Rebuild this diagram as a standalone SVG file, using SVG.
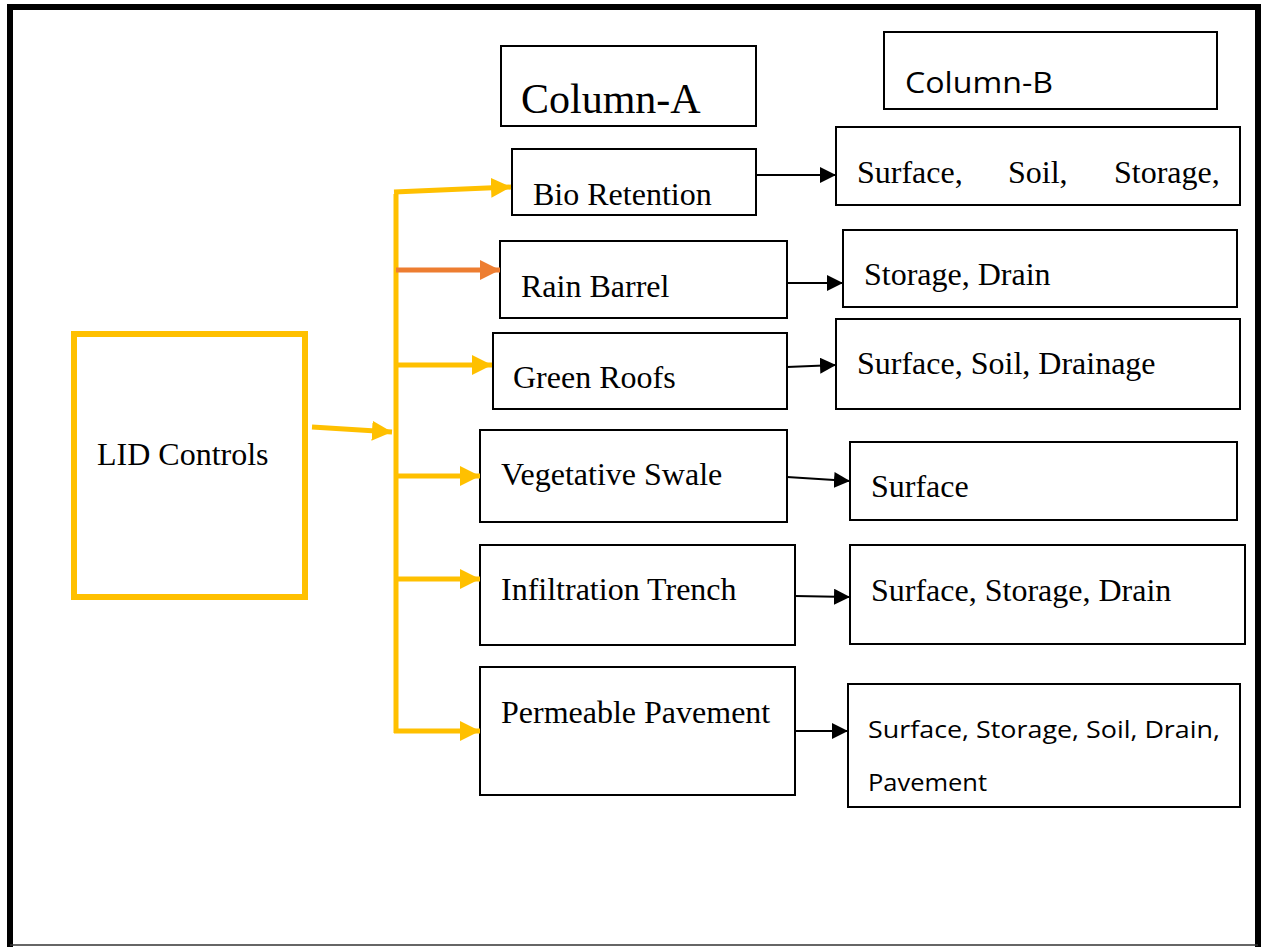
<svg xmlns="http://www.w3.org/2000/svg" width="1264" height="947" viewBox="0 0 1264 947">
<style>
.box{fill:#fff;stroke:#000;stroke-width:2}
.lid{fill:#fff;stroke:#FFC000;stroke-width:6}
.t{font-family:"Liberation Serif","Times New Roman",serif;font-size:32px;fill:#000}
.s{font-family:"Open Sans","Liberation Sans",sans-serif;fill:#000}
.y{stroke:#FFC000;stroke-width:5;fill:none}
.o{stroke:#ED7D31;stroke-width:5;fill:none}
.k{stroke:#000;stroke-width:2;fill:none}
</style>
<defs>
<marker id="ay" markerUnits="userSpaceOnUse" markerWidth="22" markerHeight="20" refX="20" refY="10" orient="auto"><path d="M0,0 L20,10 L0,20 Z" fill="#FFC000"/></marker>
<marker id="ao" markerUnits="userSpaceOnUse" markerWidth="22" markerHeight="20" refX="20" refY="10" orient="auto"><path d="M0,0 L20,10 L0,20 Z" fill="#ED7D31"/></marker>
<marker id="ak" markerUnits="userSpaceOnUse" markerWidth="18" markerHeight="16" refX="16" refY="8" orient="auto"><path d="M0,0 L16,8 L0,16 Z" fill="#000"/></marker>
</defs>
<rect width="1264" height="947" fill="#fff"/>
<g id="frame">
<path d="M10,947 V7 H1258 V947" fill="none" stroke="#000" stroke-width="6"/>
<line x1="10" y1="945" x2="1258" y2="945" stroke="#333" stroke-width="1.5"/>
</g>
<g id="lid"><rect class="lid" x="74" y="334" width="231" height="263"/><text class="t" x="97" y="465">LID Controls</text></g>
<g id="colA"><rect class="box" x="501" y="46" width="255" height="80"/><text class="t" x="521" y="113" style="font-size:42px">Column-A</text></g>
<g id="colB"><rect class="box" x="884" y="32" width="333" height="77"/><text class="s" x="905" y="93" font-size="30" textLength="148" lengthAdjust="spacingAndGlyphs">Column-B</text></g>
<g id="a1"><rect class="box" x="512" y="149" width="244" height="66"/><text class="t" x="533" y="205">Bio Retention</text></g>
<g id="a2"><rect class="box" x="500" y="241" width="287" height="77"/><text class="t" x="521" y="297">Rain Barrel</text></g>
<g id="a3"><rect class="box" x="493" y="333" width="294" height="76"/><text class="t" x="513" y="388">Green Roofs</text></g>
<g id="a4"><rect class="box" x="480" y="430" width="307" height="92"/><text class="t" x="501" y="485">Vegetative Swale</text></g>
<g id="a5"><rect class="box" x="480" y="545" width="315" height="100"/><text class="t" x="501" y="600">Infiltration Trench</text></g>
<g id="a6"><rect class="box" x="480" y="667" width="315" height="128"/><text class="t" x="501" y="723">Permeable Pavement</text></g>
<g id="b1"><rect class="box" x="836" y="127" width="404" height="78"/><text class="t" y="183"><tspan x="857">Surface,</tspan><tspan x="1008">Soil,</tspan><tspan x="1114">Storage,</tspan></text></g>
<g id="b2"><rect class="box" x="843" y="230" width="394" height="77"/><text class="t" x="864" y="285">Storage, Drain</text></g>
<g id="b3"><rect class="box" x="836" y="319" width="404" height="90"/><text class="t" x="857" y="374">Surface, Soil, Drainage</text></g>
<g id="b4"><rect class="box" x="850" y="442" width="387" height="78"/><text class="t" x="871" y="497">Surface</text></g>
<g id="b5"><rect class="box" x="850" y="545" width="395" height="99"/><text class="t" x="871" y="601">Surface, Storage, Drain</text></g>
<g id="b6"><rect class="box" x="848" y="684" width="392" height="123"/><text class="s" x="868" y="738" font-size="24" textLength="352" lengthAdjust="spacingAndGlyphs">Surface, Storage, Soil, Drain,</text><text class="s" x="868" y="791" font-size="24" textLength="119" lengthAdjust="spacingAndGlyphs">Pavement</text></g>
<g id="connectors">
<line class="y" x1="312" y1="427" x2="392" y2="432" marker-end="url(#ay)"/>
<line class="y" x1="396" y1="194" x2="396" y2="733"/>
<line class="y" x1="394" y1="192" x2="511" y2="187" marker-end="url(#ay)"/>
<line class="o" x1="396" y1="270" x2="500" y2="270" marker-end="url(#ao)"/>
<line class="y" x1="396" y1="365" x2="492" y2="365" marker-end="url(#ay)"/>
<line class="y" x1="396" y1="476" x2="480" y2="476" marker-end="url(#ay)"/>
<line class="y" x1="396" y1="579" x2="480" y2="579" marker-end="url(#ay)"/>
<line class="y" x1="394" y1="731" x2="480" y2="731" marker-end="url(#ay)"/>
<line class="k" x1="756" y1="175" x2="836" y2="175" marker-end="url(#ak)"/>
<line class="k" x1="787" y1="283" x2="843" y2="283" marker-end="url(#ak)"/>
<line class="k" x1="787" y1="367" x2="836" y2="365" marker-end="url(#ak)"/>
<line class="k" x1="787" y1="477" x2="850" y2="481" marker-end="url(#ak)"/>
<line class="k" x1="795" y1="596" x2="850" y2="597" marker-end="url(#ak)"/>
<line class="k" x1="795" y1="731" x2="848" y2="731" marker-end="url(#ak)"/>
</g>
</svg>
